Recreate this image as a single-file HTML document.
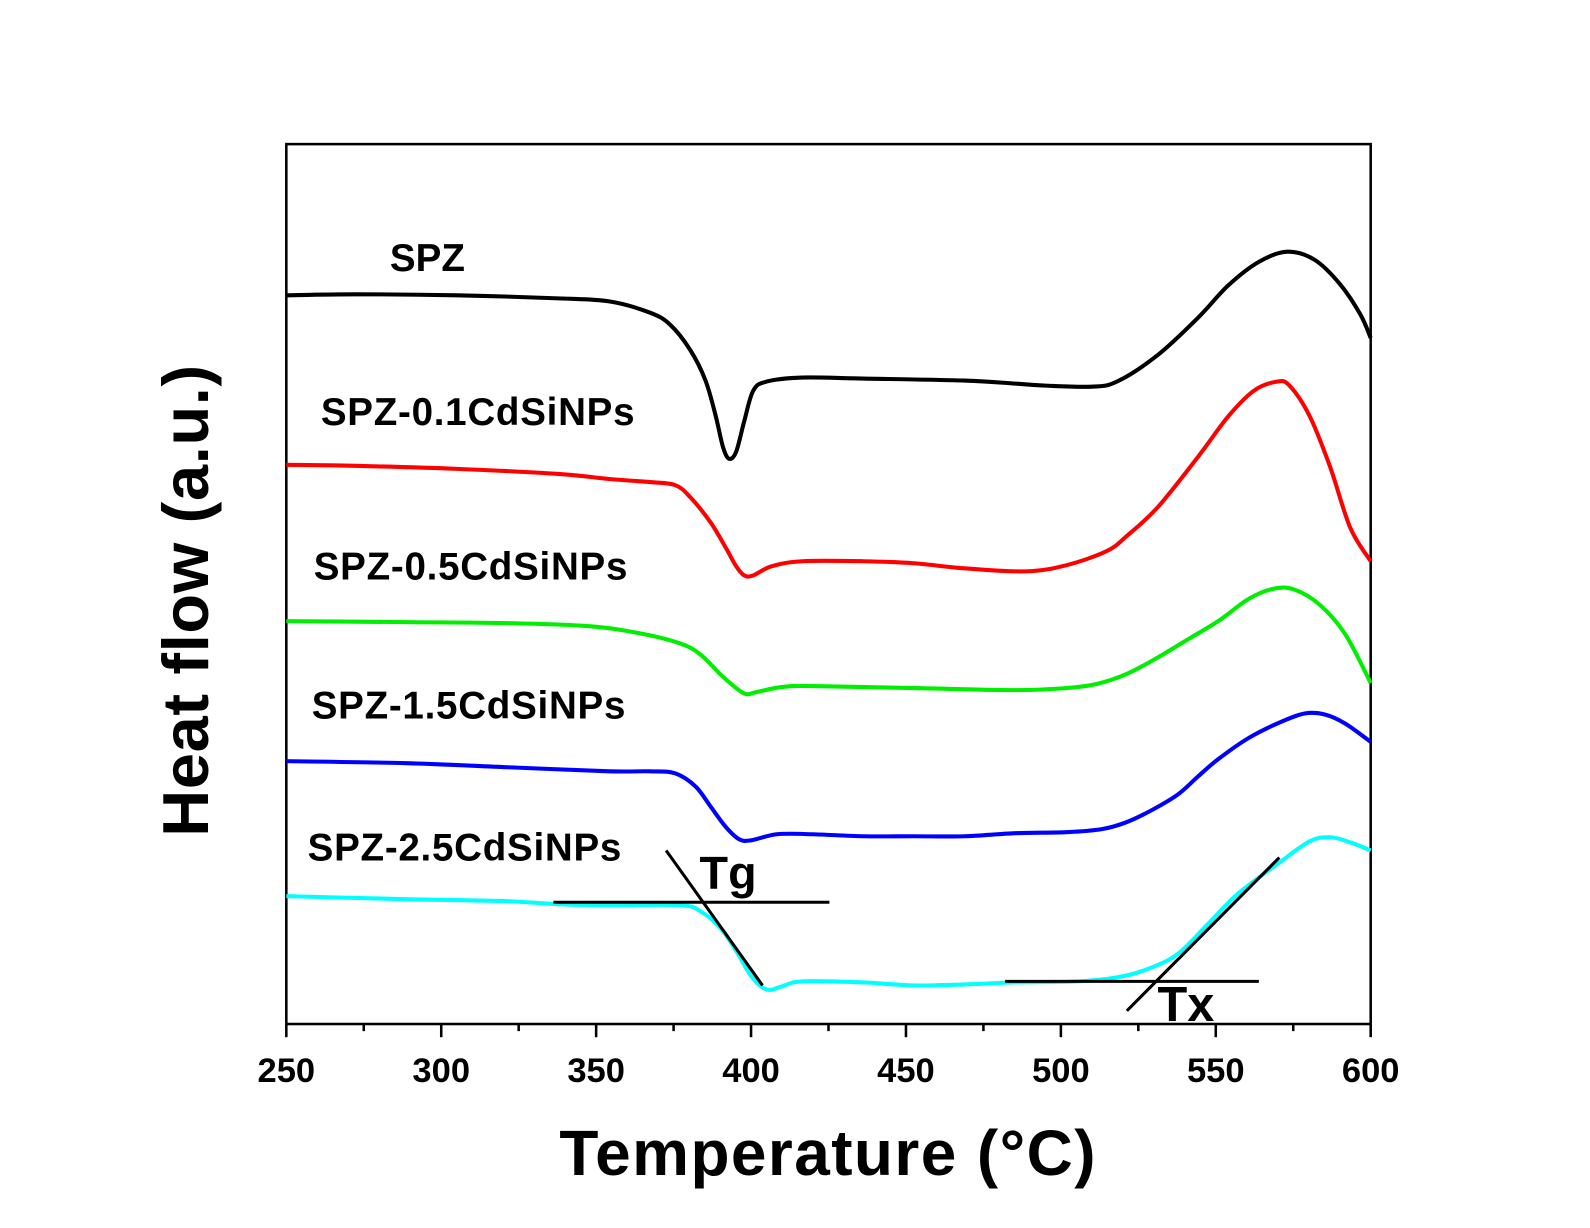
<!DOCTYPE html>
<html><head><meta charset="utf-8"><style>
body{margin:0;background:#fff}
svg{display:block;font-family:"Liberation Sans",Arial,sans-serif;font-weight:bold}
</style></head><body>
<svg id="chart" width="1590" height="1228" viewBox="0 0 1566 1210" preserveAspectRatio="none">
<rect x="282" y="142" width="1068" height="867" fill="none" stroke="#000" stroke-width="2.5"/>
<g id="ticks"></g>
<g id="series"></g>
<g id="annot"></g>
<text x="384" y="267" font-size="38">SPZ</text>
<text x="316" y="419" font-size="38" textLength="309">SPZ-0.1CdSiNPs</text>
<text x="309" y="571" font-size="38" textLength="309">SPZ-0.5CdSiNPs</text>
<text x="307" y="708" font-size="38" textLength="309">SPZ-1.5CdSiNPs</text>
<text x="303" y="848" font-size="38" textLength="309">SPZ-2.5CdSiNPs</text>
<text x="689" y="876" font-size="46">Tg</text>
<text x="1140" y="1006" font-size="48">Tx</text>
<text x="815" y="1158" font-size="63" text-anchor="middle" textLength="528">Temperature (°C)</text>
<text transform="translate(205,592) rotate(-90)" font-size="64" text-anchor="middle" textLength="465">Heat flow (a.u.)</text>
</svg>
<script>
const xTicks=[250,300,350,400,450,500,550,600];
const minorTicks=[275,325,375,425,475,525,575];
const blackT=[250,272.3,305.1,337.8,354.2,367.3,373.9,380.4,385.3,388.6,390.9,392.9,395.2,397.8,400.7,405.0,416.5,436.1,468.9,485.3,495.1,509.9,518.1,531.2,544.3,554.1,563.9,573.1,581.9,590.1,596.7,600];
const blackV=[718,719,718,715,712,701,689,664,634,599,569,557,564,594,624,633,637,636,634,631,629,628,633,659,696,728,751,761,753,729,699,676];
const redT=[250,272.3,305.1,337.8,354.2,367.3,375.5,380.4,387.0,391.9,395.2,397.8,400.7,406.6,416.5,436.1,452.5,468.9,488.6,501.7,514.8,521.3,531.2,544.3,554.1,562.3,569.8,573.8,580.3,586.9,593.4,600];
const redV=[551,550,547,542,537,534,531,519,494,469,451,442,442,451,456,456,454,449,446,452,466,481,509,559,599,624,633,629,599,549,489,456];
const greenT=[250,288.7,321.4,347.7,364.0,377.1,383.7,390.3,395.2,398.5,401.7,409.9,419.7,452.5,485.3,501.7,511.5,521.3,531.2,541.0,550.8,560.7,568.8,575.4,583.6,591.8,600];
const greenV=[397,396,395,392,385,375,364,344,331,325,327,332,333,331,329,331,335,345,361,379,397,419,429,428,413,384,336];
const blueT=[250,288.7,321.4,354.2,367.3,375.5,382.1,387.0,391.9,396.2,400.1,408.3,419.7,436.1,452.5,468.9,485.3,501.7,513.2,521.3,529.5,537.7,544.3,550.8,560.7,570.5,578.7,585.2,591.8,600];
const blueV=[259,257,253,249,249,247,234,214,194,182,181,187,187,185,185,185,188,189,192,199,211,226,244,261,282,297,306,305,296,278];
const cyanT=[250,288.7,321.4,337.8,354.2,377.1,383.7,390.3,395.2,400.1,405.0,409.9,416.5,436.1,452.5,468.9,485.3,505.0,518.1,527.9,537.7,547.6,557.4,570.5,580.3,586.9,593.4,600];
const cyanV=[126,123,121,118,117,117,111,94,72,47,34,37,42,41,38,39,41,42,46,54,69,99,129,159,180,184,179,171];
const tgH=[[336.2,120],[425.3,120]], tgD=[[372.6,171],[403.7,38]];
const txH=[[482.0,42],[563.9,42]], txD=[[521.3,13],[570.5,164]];
const X=t=>282+(t-250)/350*1068;
const Y=v=>1009-v;
const NS="http://www.w3.org/2000/svg";
const tk=document.getElementById('ticks');
xTicks.forEach(t=>{
 const l=document.createElementNS(NS,'line');
 l.setAttribute('x1',X(t));l.setAttribute('x2',X(t));l.setAttribute('y1',1009);l.setAttribute('y2',1022);
 l.setAttribute('stroke','#000');l.setAttribute('stroke-width',2.5);
 
 
 tk.appendChild(l);
 const tx=document.createElementNS(NS,'text');
 tx.setAttribute('x',X(t));tx.setAttribute('y',1066);tx.setAttribute('font-size',34);tx.setAttribute('text-anchor','middle');
 tx.textContent=t;
 
 
 tk.appendChild(tx);
});
minorTicks.forEach(t=>{
 const l=document.createElementNS(NS,'line');
 l.setAttribute('x1',X(t));l.setAttribute('x2',X(t));l.setAttribute('y1',1009);l.setAttribute('y2',1016);
 l.setAttribute('stroke','#000');l.setAttribute('stroke-width',2.5);
 
 
 tk.appendChild(l);
});
function smooth(ts,vs){
 const p=ts.map((t,i)=>[X(t),Y(vs[i])]);
 let d='M'+p[0][0]+','+p[0][1];
 for(let i=0;i<p.length-1;i++){
  const p0=p[i-1]||p[i],p1=p[i],p2=p[i+1],p3=p[i+2]||p2;
  const c1=[p1[0]+(p2[0]-p0[0])/6,p1[1]+(p2[1]-p0[1])/6];
  const c2=[p2[0]-(p3[0]-p1[0])/6,p2[1]-(p3[1]-p1[1])/6];
  d+=` C${c1[0]},${c1[1]} ${c2[0]},${c2[1]} ${p2[0]},${p2[1]}`;
 }
 return d;
}
const sg=document.getElementById('series');
[[blackT,blackV,'#000','spz'],[redT,redV,'#ff0000','spz-0.1'],[greenT,greenV,'#00ee00','spz-0.5'],[blueT,blueV,'#0000ff','spz-1.5'],[cyanT,cyanV,'#00ffff','spz-2.5']].forEach(s=>{
 const pa=document.createElementNS(NS,'path');
 pa.setAttribute('d',smooth(s[0],s[1]));pa.setAttribute('fill','none');pa.setAttribute('stroke',s[2]);pa.setAttribute('stroke-width',4);
 
 
 sg.appendChild(pa);
});
const an=document.getElementById('annot');
[[tgH,'tg-baseline'],[tgD,'tg-tangent'],[txH,'tx-baseline'],[txD,'tx-tangent']].forEach(a=>{
 const l=document.createElementNS(NS,'line');
 l.setAttribute('x1',X(a[0][0][0]));l.setAttribute('y1',Y(a[0][0][1]));
 l.setAttribute('x2',X(a[0][1][0]));l.setAttribute('y2',Y(a[0][1][1]));
 l.setAttribute('stroke','#000');l.setAttribute('stroke-width',3);
 
 
 an.appendChild(l);
});
</script>
</body></html>
